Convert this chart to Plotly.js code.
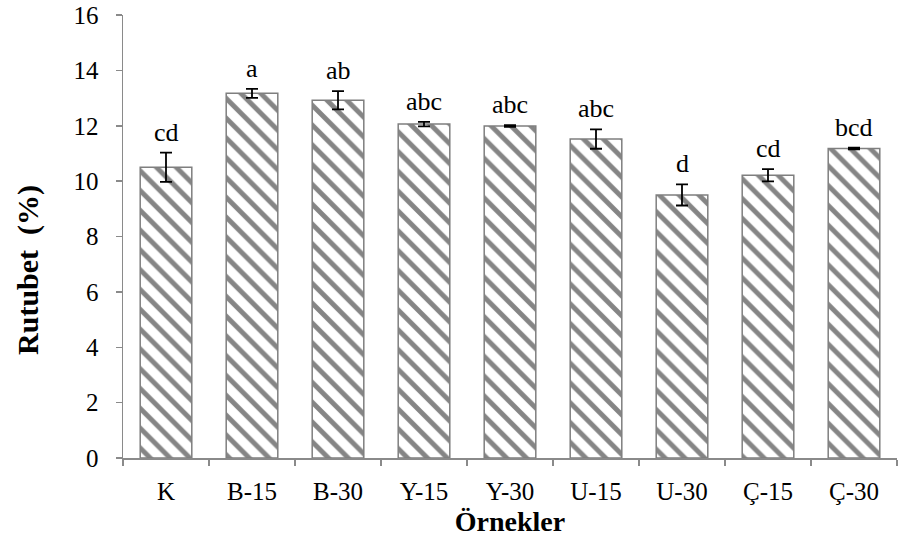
<!DOCTYPE html>
<html>
<head>
<meta charset="utf-8">
<script src="https://cdn.plot.ly/plotly-3.0.1.min.js"></script>
<style>html,body{margin:0;padding:0;background:#fff;}#chart{width:899px;height:542px;}</style>
</head>
<body>
<div id="chart"></div>
<script>
const categories = ["K", "B-15", "B-30", "Y-15", "Y-30", "U-15", "U-30", "Ç-15", "Ç-30"];
const values = [10.5, 13.17, 12.92, 12.06, 11.99, 11.52, 9.5, 10.21, 11.18];
const errors = [0.53, 0.16, 0.33, 0.08, 0.03, 0.35, 0.38, 0.22, 0.03];
const letters = ["cd", "a", "ab", "abc", "abc", "abc", "d", "cd", "bcd"];
const yTicks = [0, 2, 4, 6, 8, 10, 12, 14, 16];

const serif = "Liberation Serif, Times New Roman, serif";

const bars = {
  type: "bar",
  x: categories,
  y: values,
  error_y: {type: "data", array: errors, visible: true, color: "#000", thickness: 1.8, width: 6},
  marker: {
    color: "#ffffff",
    line: {color: "#7f7f7f", width: 1.5},
    pattern: {shape: "\\", fgcolor: "#858585", bgcolor: "#ffffff", size: 14, solidity: 0.35}
  },
  hoverinfo: "skip"
};

const annotations = categories.map((c, i) => ({
  x: c,
  y: values[i] + errors[i],
  xref: "x", yref: "y",
  text: letters[i],
  showarrow: false,
  yanchor: "bottom",
  yshift: 4,
  font: {family: serif, size: 26, color: "#000"}
}));

annotations.push({
  xref: "paper", yref: "paper",
  x: -0.1225, y: 0.425,
  xanchor: "center", yanchor: "middle",
  textangle: -90,
  showarrow: false,
  text: "<b>Rutubet&nbsp;&nbsp;(%)</b>",
  font: {family: serif, size: 30, color: "#000"}
});

const layout = {
  width: 899, height: 542,
  margin: {l: 123, r: 2, t: 15, b: 84},
  paper_bgcolor: "#fff", plot_bgcolor: "#fff",
  showlegend: false,
  bargap: 0.4,
  font: {family: serif, color: "#000", size: 25},
  annotations: annotations,
  xaxis: {
    type: "category",
    showline: true, linecolor: "#8a8a8a", linewidth: 1.5,
    ticks: "outside", tickson: "boundaries", ticklen: 6, tickcolor: "#8a8a8a", tickwidth: 1.5,
    tickfont: {family: serif, size: 25, color: "#000"},
    ticklabelstandoff: 10,
    showgrid: false, zeroline: false,
    title: {text: "<b>Örnekler</b>", font: {family: serif, size: 28, color: "#000"}, standoff: 8}
  },
  yaxis: {
    range: [0, 16],
    tickvals: yTicks,
    showline: true, linecolor: "#8a8a8a", linewidth: 1.5,
    ticks: "outside", ticklen: 6, tickcolor: "#8a8a8a", tickwidth: 1.5,
    tickfont: {family: serif, size: 25, color: "#000"},
    ticklabelstandoff: 12,
    showgrid: false, zeroline: false
  }
};

Plotly.newPlot("chart", [bars], layout, {displayModeBar: false, staticPlot: true});
</script>
</body>
</html>
